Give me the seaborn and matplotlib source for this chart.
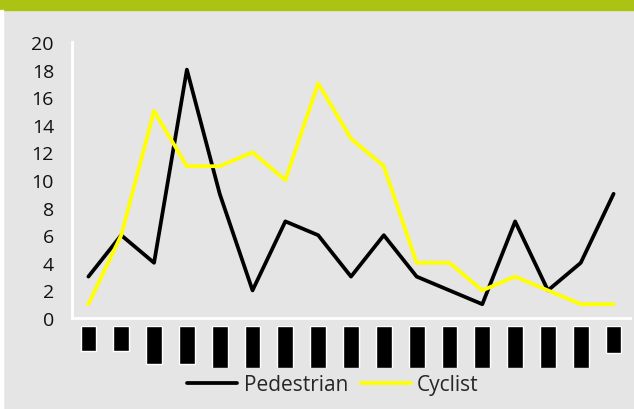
import numpy as np
import pandas as pd
import matplotlib
matplotlib.use("Agg")
import matplotlib.pyplot as plt
import seaborn as sns

# data
periods = list(range(1, 18))
pedestrian = [3, 6, 4, 18, 9, 2, 7, 6, 3, 6, 3, 2, 1, 7, 2, 4, 9]
cyclist = [1, 6, 15, 11, 11, 12, 10, 17, 13, 11, 4, 4, 2, 3, 2, 1, 1]
# the category labels show only as black blocks; their relative lengths
label_len = [6, 6, 9, 9, 10, 10, 10, 10, 10, 10, 10, 10, 10, 10, 10, 10, 6.5]

BG = "#E5E5E5"
GREEN = "#ABC313"
YELLOW = "#FFFF00"

sns.set_theme(style="white")
plt.rcParams["font.family"] = ["Open Sans", "DejaVu Sans"]

df = pd.DataFrame({
    "pos": list(range(len(periods))) * 2,
    "value": pedestrian + cyclist,
    "series": ["Pedestrian"] * len(periods) + ["Cyclist"] * len(periods),
})

fig = plt.figure(figsize=(6.34, 4.10), dpi=100, facecolor=BG)
# green band on top and thin white strip on the left
fig.patches.append(plt.Rectangle((0, 1 - 11 / 410), 1, 11 / 410, transform=fig.transFigure,
                                 color=GREEN, zorder=0))
fig.patches.append(plt.Rectangle((0, 0), 3 / 634, 1 - 11 / 410, transform=fig.transFigure,
                                 color="white", zorder=0))

ax = fig.add_axes([72 / 634, (410 - 319) / 410, (630 - 72) / 634, (319 - 43) / 410])
ax.set_facecolor(BG)
sns.lineplot(data=df, x="pos", y="value", hue="series",
             palette={"Pedestrian": "black", "Cyclist": YELLOW},
             linewidth=2.7, ax=ax, legend=False)

ax.set_xlim(-0.5, len(periods) - 0.5)
ax.set_ylim(0, 20)
ax.set_yticks(range(0, 21, 2))
ax.set_xticks(np.arange(-0.5, len(periods), 1.0))
ax.set_xticklabels([])
ax.set_xlabel("")
ax.set_ylabel("")
for side in ["top", "right"]:
    ax.spines[side].set_visible(False)
for side in ["left", "bottom"]:
    ax.spines[side].set_color("white")
    ax.spines[side].set_linewidth(2)
ax.tick_params(axis="both", colors="white", width=2, length=5, direction="out")
ax.tick_params(axis="y", labelcolor="#111111", labelsize=14, pad=8)

# black blocks standing in for the x labels
bax = fig.add_axes([72 / 634, (410 - 369) / 410, (630 - 72) / 634, 42 / 410])
bax.set_facecolor("none")
sns.barplot(x=list(range(len(periods))), y=[-v for v in label_len], color="black",
            width=0.48, ax=bax, saturation=1)
bax.set_xlim(-0.5, len(periods) - 0.5)
bax.set_ylim(-10, 0)
bax.axis("off")

handles = [plt.Line2D([], [], color="black", lw=2.7),
           plt.Line2D([], [], color=YELLOW, lw=2.7)]
fig.legend(handles, ["Pedestrian", "Cyclist"], loc="center", ncol=2,
           bbox_to_anchor=(333 / 634, 1 - 386 / 410), frameon=False,
           fontsize=15, handlelength=2.4, columnspacing=0.6, handletextpad=0.3,
           borderpad=0)

fig.savefig("out.png", dpi=100, facecolor=BG)
